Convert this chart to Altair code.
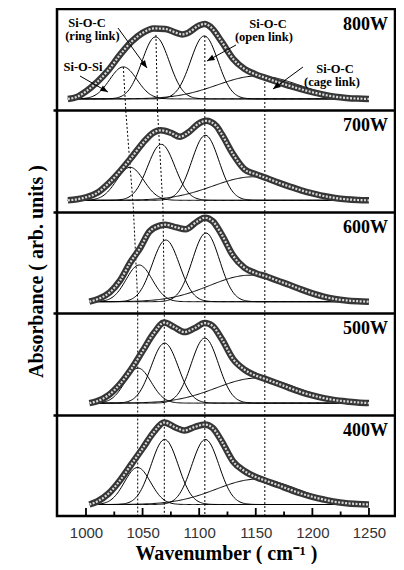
import altair as alt
import pandas as pd
import numpy as np

# ---------------- data ----------------
panel_names = ["400W", "500W", "600W", "700W", "800W"]   # bottom -> top

# measured spectra (open circles): wavenumber / absorbance (arb. units)
w_800 = [984, 992, 1000, 1010, 1020, 1030, 1040, 1050, 1060, 1070, 1080, 1085, 1090, 1100, 1105, 1110, 1120, 1130, 1140, 1150, 1160, 1170, 1180, 1190, 1200, 1210, 1220, 1230, 1240, 1250]
a_800 = [0, 2, 7.5, 17, 29, 44, 57, 66, 70.5, 70, 66, 64.5, 66, 73.5, 75, 72, 57, 40, 30, 24.5, 20.5, 16.5, 13, 9.7, 6.7, 4.2, 2.2, 1, 0.3, 0]

w_700 = [984, 992, 1000, 1010, 1020, 1030, 1040, 1050, 1060, 1066, 1075, 1083, 1090, 1100, 1106, 1115, 1120, 1130, 1140, 1150, 1160, 1170, 1180, 1190, 1200, 1210, 1220, 1230, 1240, 1250]
a_700 = [0, 1, 3, 7.5, 17, 29, 42.5, 57, 68, 70, 67.5, 63.5, 67.5, 77, 79.5, 74.5, 66, 46, 31, 26, 22, 17.7, 13.7, 10, 7, 4.3, 2.3, 1, 0.3, 0]

w_600 = [1003, 1012, 1021, 1030, 1039, 1048, 1056, 1065, 1070, 1080, 1088, 1098, 1105, 1112, 1120, 1130, 1140, 1150, 1160, 1170, 1180, 1190, 1200, 1210, 1220, 1230, 1240, 1250]
a_600 = [0, 3.3, 9.3, 21, 39, 54, 70, 76, 77, 74.3, 72.5, 80, 84, 80.5, 67, 46, 34, 28.5, 25, 20.7, 16.7, 12.3, 8.3, 5, 2.7, 1.3, 0.5, 0]

w_500 = [1003, 1010, 1020, 1030, 1040, 1050, 1060, 1069, 1078, 1087, 1096, 1105, 1112, 1120, 1130, 1140, 1150, 1160, 1170, 1180, 1190, 1200, 1210, 1220, 1230, 1240, 1250]
a_500 = [0, 2, 8, 19, 34, 52, 70, 80.5, 76, 71, 75, 80, 77, 64, 44, 33.5, 27.5, 23.5, 19.3, 15, 11, 7.7, 5, 3, 1.7, 0.7, 0]

w_400 = [1003, 1010, 1020, 1030, 1040, 1050, 1060, 1069, 1080, 1087, 1096, 1105, 1112, 1120, 1130, 1140, 1150, 1160, 1170, 1180, 1190, 1200, 1210, 1220, 1230, 1240, 1250]
a_400 = [0, 3, 11, 24, 40, 56, 72.5, 82, 76.5, 74, 77.5, 80, 76.5, 63, 43, 33.5, 27.5, 23.3, 19.3, 15, 11, 7.7, 5, 2.7, 1.3, 0.5, 0]

spectra_w = [w_400, w_500, w_600, w_700, w_800]
spectra_a = [a_400, a_500, a_600, a_700, a_800]

# fitted Gaussian components: centre, height, width (sigma)
comp_names = ["Si-O-Si", "Si-O-C ring", "Si-O-C open", "Si-O-C cage"]
centres = [[1045.5, 1069.5, 1105.5, 1151], [1046, 1069.5, 1105, 1151], [1047, 1070.5, 1106, 1145],
           [1039, 1066.5, 1105.5, 1148], [1033, 1061.5, 1104.5, 1152]]
heights = [[37, 65, 65, 25.3], [35, 60, 65, 25], [36.7, 61.7, 68.7, 26.5],
           [33, 56, 65, 23.5], [32, 62, 63, 23]]
sigmas = [[11.5, 12, 12, 36], [11.5, 12, 12, 36], [11.5, 12, 12, 36],
          [12, 12, 12, 36], [12, 12, 12, 36]]

# dotted guide lines (wavenumber at successive heights, whole-figure units)
guide_w = [[1033, 1035.3, 1041.8, 1045.7, 1045.7],
           [1061.8, 1063.2, 1068, 1069.2, 1069.2],
           [1105, 1105],
           [1158, 1158]]
guide_y = [[449, 403, 309, 216, 0],
           [481, 406, 309, 216, 0],
           [480, 0],
           [438, 0]]

# annotations in the 800W panel (wavenumber, absorbance)
ann_text = ["Si-O-C", "(ring link)", "Si-O-Si", "Si-O-C", "(open link)", "Si-O-C", "(cage link)"]
ann_w = [1000.9, 1005.7, 997.3, 1160.8, 1157.2, 1220, 1217.3]
ann_a = [72.4, 58.9, 27.9, 71.1, 57.6, 26.4, 12.9]

arrow_w1 = [994.7, 1028.3, 1132.5, 1191.7]
arrow_a1 = [22.9, 70.9, 53.9, 31.9]
arrow_w2 = [1019.4, 1053.9, 1106.9, 1165.2]
arrow_a2 = [6.9, 30.9, 37.9, 9.9]

major_ticks = [1000, 1050, 1100, 1150, 1200, 1250]
minor_ticks = [1025, 1075, 1125, 1175, 1225]

# ---------------- layout ----------------
W, H = 338, 507
XMIN, XMAX = 974.4, 1273.0
PANEL_H = H / 5
BASE_OFF = 11.5
px_per_w = W / (XMAX - XMIN)

def base(k):
    return k * PANEL_H + BASE_OFF

SERIF = "Liberation Serif"
SANS = "Liberation Sans"

# components
rows = []
for k in range(5):
    grid = np.arange(spectra_w[k][0], 1250.5, 1.0)
    for j in range(4):
        g = heights[k][j] * np.exp(-((grid - centres[k][j]) ** 2) / (2 * sigmas[k][j] ** 2))
        for w, v in zip(grid, g):
            rows.append({"w": w, "y": base(k) + v, "key": f"{k}-{j}"})
comp_df = pd.DataFrame(rows)

band_rows = []
for k in range(5):
    for w, a in zip(spectra_w[k], spectra_a[k]):
        band_rows.append({"w": w, "y": base(k) + a, "panel": panel_names[k]})
band_df = pd.DataFrame(band_rows)

guide_rows = []
for g in range(4):
    for i, (w, y) in enumerate(zip(guide_w[g], guide_y[g])):
        guide_rows.append({"w": w, "y": y, "g": g, "i": i})
guide_df = pd.DataFrame(guide_rows)

b800 = base(4)
ann_df = pd.DataFrame({"t": ann_text, "w": ann_w, "y": [b800 + a for a in ann_a]})

arr_rows = []
for w1, a1, w2, a2 in zip(arrow_w1, arrow_a1, arrow_w2, arrow_a2):
    dx = (w2 - w1) * px_per_w
    dy = -(a2 - a1)
    ang = float(np.degrees(np.arctan2(dx, -dy)) % 360)
    arr_rows.append({"w": w1, "y": b800 + a1, "w2": w2, "y2": b800 + a2, "ang": ang})
arr_df = pd.DataFrame(arr_rows)

lab_df = pd.DataFrame({"t": panel_names, "y": [(k + 1) * PANEL_H - 21 for k in range(5)]})

xsc = alt.Scale(domain=[XMIN, XMAX], nice=False, zero=False)
ysc = alt.Scale(domain=[0, H], nice=False, zero=False)

xaxis = alt.Axis(values=major_ticks, ticks=False, domain=False, grid=False, format="d",
                 labelFont=SANS, labelFontSize=15, labelColor="#333333", labelPadding=9,
                 title="Wavenumber ( cm⁻¹ )", titleFont=SERIF, titleFontSize=20,
                 titleFontWeight="bold", titleColor="black", titleY=43, titleBaseline="alphabetic")
yaxis = alt.Axis(values=[PANEL_H * i for i in range(1, 5)], labels=False, domain=False,
                 grid=True, gridColor="black", gridWidth=2.5, gridOpacity=1,
                 ticks=True, tickSize=4, tickWidth=2.5, tickColor="black",
                 title="Absorbance ( arb. units )", titleFont=SERIF, titleFontSize=20,
                 titleFontWeight="bold", titleColor="black", titleX=-15, titleY=262,
                 titleBaseline="alphabetic")

X = alt.X("w:Q", scale=xsc, axis=xaxis)
Y = alt.Y("y:Q", scale=ysc, axis=yaxis)

comps = alt.Chart(comp_df).mark_line(color="black", strokeWidth=1).encode(x=X, y=Y, detail="key:N")

band_outer = alt.Chart(band_df).mark_line(color="#363636", strokeWidth=6.5, interpolate="monotone").encode(
    x=X, y=Y, detail="panel:N")
band_inner = alt.Chart(band_df).mark_line(color="#d8d8d8", strokeWidth=2.2, strokeDash=[2, 1.5],
                                          interpolate="monotone").encode(x=X, y=Y, detail="panel:N")

guides = alt.Chart(guide_df).mark_line(color="black", strokeWidth=1, strokeDash=[2, 2]).encode(
    x=X, y=Y, detail="g:N", order="i:Q")

arrows = alt.Chart(arr_df).mark_rule(color="black", strokeWidth=1).encode(x=X, y=Y, x2="w2:Q", y2="y2:Q")
heads = alt.Chart(arr_df).transform_calculate(w="datum.w2", y="datum.y2").mark_point(
    shape="M0,0 L-0.4,1 L0.4,1 Z", filled=True, color="black", size=230, opacity=1).encode(
    x=X, y=Y, angle=alt.Angle("ang:Q", scale=None))

ann = alt.Chart(ann_df).mark_text(font=SERIF, fontSize=12.5, fontWeight="bold", align="center",
                                  baseline="alphabetic", color="black").encode(x=X, y=Y, text="t:N")

labels = alt.Chart(lab_df).mark_text(font=SERIF, fontSize=18, fontWeight="bold", align="right",
                                     baseline="alphabetic", color="black").encode(
    x=alt.value(331), y=Y, text="t:N")

maj_df = pd.DataFrame({"w": major_ticks})
min_df = pd.DataFrame({"w": minor_ticks})
maj = alt.Chart(maj_df).mark_rule(color="black", strokeWidth=1.8).encode(
    x=X, y=alt.value(H), y2=alt.value(H - 8))
mnr = alt.Chart(min_df).mark_rule(color="black", strokeWidth=1.8).encode(
    x=X, y=alt.value(H), y2=alt.value(H - 4.5))

chart = alt.layer(comps, guides, band_outer, band_inner, arrows, heads, ann, labels, maj, mnr).properties(
    width=W, height=H,
    padding={"left": 49, "top": 1, "right": 1, "bottom": 48},
    autosize=alt.AutoSizeParams(type="none"),
    background="white",
).configure_view(stroke="black", strokeWidth=2.5)

chart.save("out.html", embed_options={"renderer": "svg", "actions": False})
